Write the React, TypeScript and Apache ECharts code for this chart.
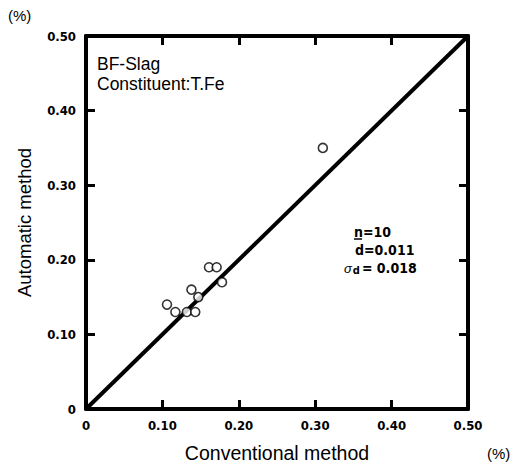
import React, { useEffect, useRef } from "react";
import * as echarts from "echarts";

const conventional = [0.106, 0.117, 0.132, 0.143, 0.138, 0.147, 0.161, 0.171, 0.178, 0.31];
const automatic = [0.14, 0.13, 0.13, 0.13, 0.16, 0.15, 0.19, 0.19, 0.17, 0.35];
const identityLine = [0, 0.5];

const NARROW = "'DejaVu Sans Condensed', 'Liberation Sans Narrow', 'Liberation Sans', sans-serif";
const SANS = "'Liberation Sans', Arial, sans-serif";

export default function App() {
  const ref = useRef<HTMLDivElement>(null);
  useEffect(() => {
    if (!ref.current) return;
    document.body.style.margin = "0";
    const chart = echarts.init(ref.current, null, { renderer: "svg" });
    const fmt = (v: number) => (v === 0 ? "0" : v.toFixed(2));
    const tickLabel = {
      fontFamily: NARROW,
      fontWeight: "bold" as const,
      fontSize: 13,
      color: "#000",
      formatter: fmt,
    };
    const base = {
      type: "value" as const,
      min: 0,
      max: 0.5,
      interval: 0.1,
      splitLine: { show: false },
      axisLine: { show: true, onZero: false, lineStyle: { color: "#000", width: 4 } },
      axisTick: { show: true, inside: true, length: 9, lineStyle: { color: "#000", width: 3 } },
    };
    chart.setOption({
      animation: false,
      backgroundColor: "#fff",
      grid: { left: 86, right: 48, top: 36, bottom: 57 },
      xAxis: [
        {
          ...base,
          position: "bottom",
          axisLabel: { ...tickLabel, margin: 10 },
          name: "Conventional method",
          nameLocation: "middle",
          nameGap: 34,
          nameTextStyle: { fontFamily: SANS, fontSize: 19.5, color: "#000" },
        },
        { ...base, position: "top", axisLabel: { show: false } },
      ],
      yAxis: [
        {
          ...base,
          position: "left",
          axisLabel: { ...tickLabel, margin: 10 },
          name: "Automatic method",
          nameLocation: "middle",
          nameGap: 52,
          nameTextStyle: { fontFamily: SANS, fontSize: 18.5, color: "#000" },
        },
        { ...base, position: "right", axisLabel: { show: false } },
      ],
      series: [
        {
          type: "line",
          data: identityLine.map((v) => [v, v]),
          symbol: "none",
          lineStyle: { color: "#000", width: 4 },
          z: 2,
        },
        {
          type: "scatter",
          data: conventional.map((x, i) => [x, automatic[i]]),
          symbol: "circle",
          symbolSize: 9,
          itemStyle: { color: "#fff", borderColor: "#000", borderWidth: 1.6 },
          z: 3,
        },
      ],
      graphic: [
        { type: "text", left: 8, top: 8, style: { text: "(%)", font: `15px ${SANS}`, fill: "#000" } },
        { type: "text", left: 487, top: 446, style: { text: "(%)", font: `15px ${SANS}`, fill: "#000" } },
        { type: "text", left: 97, top: 55, style: { text: "BF-Slag", font: `17.5px ${SANS}`, fill: "#000" } },
        { type: "text", left: 97, top: 75, style: { text: "Constituent:T.Fe", font: `17.5px ${SANS}`, fill: "#000" } },
        { type: "text", left: 354, top: 225, style: { text: "n=10", font: `bold 14px ${NARROW}`, fill: "#000" } },
        { type: "line", shape: { x1: 354, y1: 239, x2: 362, y2: 239 }, style: { stroke: "#000", lineWidth: 1.5 } },
        { type: "text", left: 355, top: 243, style: { text: "d=0.011", font: `bold 14px ${NARROW}`, fill: "#000" } },
        {
          type: "text",
          left: 344,
          top: 261,
          style: {
            text: "{s|σ}{sub|d}{v|= 0.018}",
            rich: {
              s: { font: `italic 13px ${SANS}`, fill: "#000" },
              sub: { font: `bold 11px ${NARROW}`, fill: "#000", padding: [5, 2, 0, 1] },
              v: { font: `bold 14px ${NARROW}`, fill: "#000" },
            },
          },
        },
      ],
    });
    return () => chart.dispose();
  }, []);
  return <div ref={ref} style={{ width: 516, height: 468 }} />;
}
